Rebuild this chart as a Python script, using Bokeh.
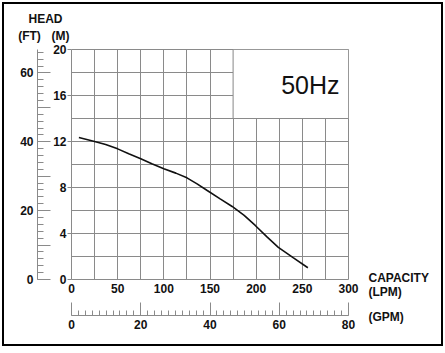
from bokeh.plotting import figure
from bokeh.models import (Range1d, LinearAxis, FixedTicker, SingleIntervalTicker, Label)
from bokeh.embed import file_html
from bokeh.resources import INLINE

# ---- data ----
capacity_lpm = [8, 25, 37, 50, 62, 75, 87, 100, 113, 125, 136, 147, 161, 174, 187, 199, 212, 224, 240, 256]
head_m = [12.35, 12.0, 11.74, 11.36, 10.93, 10.5, 10.06, 9.63, 9.25, 8.84, 8.32, 7.74, 7.01, 6.35, 5.57, 4.7, 3.68, 2.8, 1.9, 1.02]

lpm_ticks = [0, 50, 100, 150, 200, 250, 300]
m_ticks = [0, 4, 8, 12, 16, 20]
grid_x = list(range(0, 301, 25))
grid_y = list(range(0, 21, 2))
ft_max = 66.8
gpm_max = 80
ft_hidden = {10: "", 30: "", 50: ""}
freq_text = "50Hz"
box_lpm = [175, 300]
box_head = [14, 20]

GRID = "#8a8a8a"
INK = "#111111"
FONT = "Liberation Sans"

W, H = 445, 348
# layout helpers: pixel position -> data position
FL, FR, FT, FB = 71, 348, 49, 279
def px2x(px):
    return (px - FL) * 300.0 / (FR - FL)
def py2y(py):
    return (FB - py) * 20.0 / (FB - FT)

p = figure(width=W, height=H, x_range=Range1d(0, 300), y_range=Range1d(0, 20),
           output_backend="svg", toolbar_location=None,
           min_border_left=FL, min_border_right=W - FR,
           min_border_top=FT, min_border_bottom=H - FB,
           background_fill_color="white", border_fill_color=None)
p.styles = {"outline": "2px solid #000", "outline-offset": "-4px", "background": "white"}
p.extra_y_ranges = {"ft": Range1d(0, ft_max)}
p.extra_x_ranges = {"gpm": Range1d(0, gpm_max)}

p.outline_line_color = GRID
p.outline_line_width = 1
p.outline_line_alpha = 1

p.xgrid.ticker = FixedTicker(ticks=grid_x)
p.ygrid.ticker = FixedTicker(ticks=grid_y)
for g in (p.xgrid[0], p.ygrid[0]):
    g.grid_line_color = GRID
    g.grid_line_alpha = 1
    g.grid_line_width = 1

def style_labels(ax):
    ax.major_label_text_font = FONT
    ax.major_label_text_font_style = "bold"
    ax.major_label_text_font_size = "12px"
    ax.major_label_text_color = INK

# metres axis
ya = p.yaxis[0]
ya.ticker = FixedTicker(ticks=m_ticks)
ya.axis_line_color = None
ya.major_tick_out = 4
ya.major_tick_in = 0
ya.minor_tick_out = 0
ya.minor_tick_in = 0
ya.major_tick_line_color = GRID
ya.major_label_standoff = 1
style_labels(ya)
ya.axis_label = " "
ya.axis_label_standoff = 1
ya.axis_label_text_font_size = "8px"

# feet axis
ft = LinearAxis(y_range_name="ft", ticker=SingleIntervalTicker(interval=10, num_minor_ticks=5))
ft.major_label_overrides = ft_hidden
ft.major_tick_out = 0
ft.major_tick_in = 13
ft.minor_tick_out = 0
ft.minor_tick_in = 6
ft.axis_line_color = GRID
ft.major_tick_line_color = GRID
ft.minor_tick_line_color = GRID
ft.major_label_standoff = 4
style_labels(ft)
p.add_layout(ft, "left")

# LPM axis
xa = p.xaxis[0]
xa.ticker = FixedTicker(ticks=lpm_ticks)
xa.axis_line_color = None
xa.major_tick_out = 0
xa.major_tick_in = 0
xa.minor_tick_out = 0
xa.minor_tick_in = 0
xa.major_label_standoff = 4
style_labels(xa)
xa.axis_label = " "
xa.axis_label_standoff = 8
xa.axis_label_text_font_size = "8px"

# GPM axis
gpm = LinearAxis(x_range_name="gpm", ticker=SingleIntervalTicker(interval=20, num_minor_ticks=10))
gpm.major_tick_out = 0
gpm.major_tick_in = 13
gpm.minor_tick_out = 0
gpm.minor_tick_in = 5
gpm.axis_line_color = GRID
gpm.major_tick_line_color = GRID
gpm.minor_tick_line_color = GRID
gpm.major_label_standoff = 4
style_labels(gpm)
p.add_layout(gpm, "below")

# 50Hz box
p.quad(left=[box_lpm[0]], right=[box_lpm[1]], bottom=[box_head[0]], top=[box_head[1]],
       fill_color="white", line_color=GRID, line_width=1)

# performance curve
p.line(capacity_lpm, head_m, line_color=INK, line_width=1.6)

def make_label(text, px, py, size="12px", align="left", style="bold", lh=1.2):
    return Label(x=px2x(px), y=py2y(py), text=text, text_font=FONT,
                 text_font_size=size, text_font_style=style, text_color=INK,
                 text_align=align, text_baseline="middle", text_line_height=lh)

p.add_layout(make_label(freq_text, 339, 84, size="25px", align="right", style="normal"))
p.add_layout(make_label("HEAD", 45, 18, align="center"), "above")
p.add_layout(make_label("(FT)", 29, 35, align="center"), "above")
p.add_layout(make_label("(M)", 60, 35, align="center"), "above")
p.add_layout(make_label("CAPACITY\n(LPM)", 368, 284, lh=1.0), "right")
p.add_layout(make_label("(GPM)", 368, 316), "below")

open("out.html", "w").write(file_html(p, INLINE))
